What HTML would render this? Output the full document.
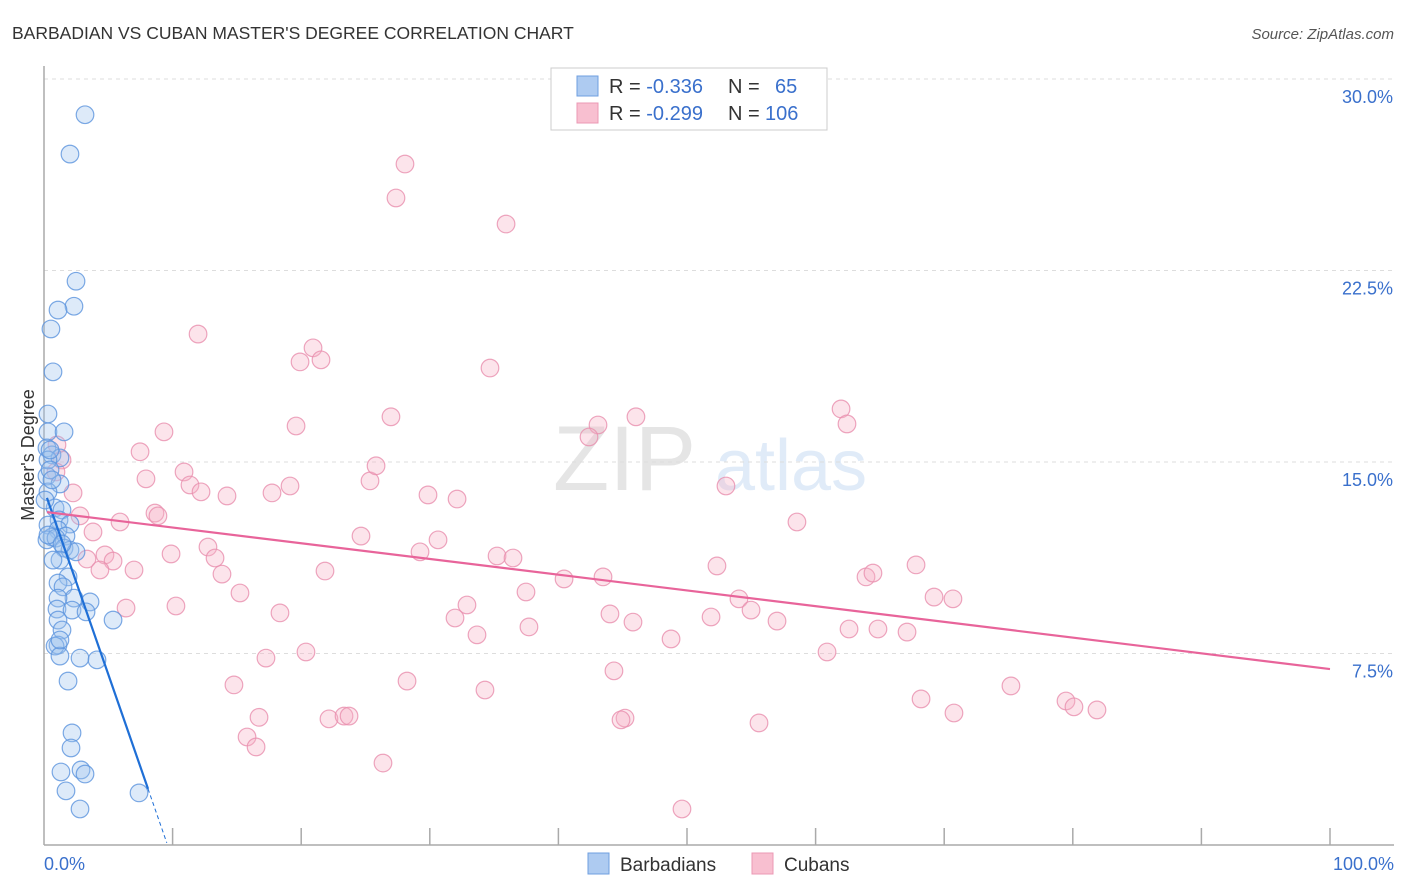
<!DOCTYPE html>
<html><head><meta charset="utf-8"><style>
body{margin:0;background:#fff;font-family:"Liberation Sans",sans-serif;}
#wrap{position:relative;width:1406px;height:892px;overflow:hidden;}
svg text{font-family:"Liberation Sans",sans-serif;}
</style></head><body>
<div id="wrap">
<svg id="chart" width="1406" height="892">
<text x="12" y="39" font-size="17.5" fill="#333">BARBADIAN VS CUBAN MASTER'S DEGREE CORRELATION CHART</text>
<text x="1394" y="39" font-size="15" fill="#555" text-anchor="end" font-style="italic">Source: ZipAtlas.com</text>
<g opacity="0.3">
<text x="553" y="490" font-size="92" font-family="Liberation Serif" fill="#aaa">ZIP</text>
<text x="715" y="490" font-size="72" fill="#9cc0ea">atlas</text>
</g>
<g id="grid"></g><g id="axes"></g><g id="pts"></g><g id="lines"></g>
<text transform="translate(34,455) rotate(-90)" font-size="18" fill="#333" text-anchor="middle">Master's Degree</text>
<text x="44" y="870" font-size="18" fill="#3a70cc">0.0%</text>
<text x="1394" y="870" font-size="18" fill="#3a70cc" text-anchor="end">100.0%</text>
<g>
<rect x="551" y="68" width="276" height="62" fill="#fff" stroke="#ccc"/>
<rect x="577" y="76" width="21" height="20" fill="#aecbf1" stroke="#6f9fe0"/>
<rect x="577" y="103" width="21" height="20" fill="#f8bfd0" stroke="#eb98b4"/>
<text x="609" y="93" font-size="20" fill="#333">R = <tspan fill="#3a70cc">-0.336</tspan><tspan x="728">N =</tspan><tspan x="775" fill="#3a70cc">65</tspan></text>
<text x="609" y="120" font-size="20" fill="#333">R = <tspan fill="#3a70cc">-0.299</tspan><tspan x="728">N =</tspan><tspan x="765" fill="#3a70cc">106</tspan></text>
</g>
<g>
<rect x="588" y="853" width="21" height="21" fill="#aecbf1" stroke="#6f9fe0"/>
<text x="620" y="871" font-size="19" fill="#333">Barbadians</text>
<rect x="752" y="853" width="21" height="21" fill="#f8bfd0" stroke="#eb98b4"/>
<text x="784" y="871" font-size="19" fill="#333">Cubans</text>
</g>
</svg></div>
<script>
const yTicks=[7.5,15,22.5,30];
const yTickLabels=["7.5%","15.0%","22.5%","30.0%"];
const xTicks=[10,20,30,40,50,60,70,80,90,100];
const blueX=[3.19,2.02,2.49,2.33,1.09,0.54,0.70,0.31,0.31,1.56,0.23,0.62,1.24,0.23,1.24,0.31,0.86,1.4,1.17,2.02,0.31,1.09,0.62,1.71,0.23,0.93,1.56,2.02,2.49,1.87,1.09,1.48,2.33,1.09,3.58,1.01,2.18,3.27,5.37,1.09,1.4,1.09,0.86,1.24,2.8,4.12,1.87,2.18,2.1,1.32,2.88,3.19,1.71,2.8,7.39,0.31,0.47,0.62,0.08,0.31,1.4,1.24,0.47,0.7,1.24];
const blueY=[28.6,27.06,22.08,21.1,20.95,20.21,18.53,16.88,16.18,16.18,15.55,15.28,15.16,14.45,14.14,13.83,13.2,13.12,12.73,12.57,12.53,12.34,12.06,12.1,11.95,12.02,11.63,11.55,11.48,10.5,10.26,10.11,9.67,9.67,9.52,9.24,9.2,9.13,8.81,8.81,8.42,7.83,7.79,7.4,7.32,7.25,6.42,4.39,3.8,2.86,2.94,2.78,2.12,1.41,2.04,15.08,14.69,14.3,13.51,12.14,11.79,11.16,15.47,11.16,8.03];
const pinkX=[28.07,27.37,35.93,11.98,20.92,19.91,21.54,34.68,26.98,46.03,43.08,42.38,61.98,62.44,19.6,9.33,7.47,1.01,10.89,7.93,11.35,12.21,14.23,17.73,19.13,25.35,25.82,29.86,32.12,53.03,1.4,0.93,2.26,2.8,5.91,8.63,8.86,58.55,24.65,30.64,29.24,35.23,36.47,12.75,9.88,13.3,4.74,3.81,3.34,5.37,4.35,7.0,13.84,21.85,40.44,43.47,52.33,63.92,64.46,67.81,15.24,37.48,32.89,69.21,70.68,54.04,6.38,10.26,18.35,31.96,44.01,45.8,51.87,54.98,57.0,33.67,37.71,48.76,62.6,64.85,67.11,17.26,20.37,60.89,44.32,28.23,34.29,14.77,75.19,68.2,79.47,80.09,81.88,70.76,16.72,22.16,23.33,23.72,45.18,44.87,55.6,15.79,16.49,26.36,49.61];
const pinkY=[26.67,25.34,24.32,20.01,19.47,18.92,19.0,18.68,16.77,16.77,16.45,15.98,17.08,16.49,16.41,16.18,15.4,15.67,14.61,14.34,14.1,13.83,13.67,13.79,14.06,14.26,14.85,13.71,13.55,14.06,15.08,14.61,13.79,12.89,12.65,13.0,12.89,12.65,12.1,11.95,11.48,11.32,11.24,11.67,11.4,11.24,11.36,12.26,11.2,11.12,10.77,10.77,10.61,10.73,10.42,10.5,10.93,10.5,10.65,10.97,9.87,9.91,9.4,9.71,9.64,9.64,9.28,9.36,9.09,8.89,9.05,8.73,8.93,9.2,8.77,8.23,8.54,8.07,8.46,8.46,8.34,7.32,7.56,7.56,6.82,6.42,6.07,6.27,6.23,5.72,5.64,5.41,5.29,5.17,5.0,4.94,5.05,5.05,4.97,4.9,4.78,4.23,3.84,3.21,1.41];
const blueTrend=[13.93,-1.45];
const blueRange=[0.23,8.09,9.55];
const pinkTrend=[13.05,-0.0616];
const pinkRange=[0.23,100];

const NS="http://www.w3.org/2000/svg";
const X0=44,X1=1330,Y0=845,YTOP=79;
const xs=v=>X0+(X1-X0)*v/100;
const ys=v=>Y0-(Y0-YTOP)*v/30;
function mk(tag,attrs,parent){const e=document.createElementNS(NS,tag);for(const k in attrs)e.setAttribute(k,attrs[k]);parent.appendChild(e);return e;}
const grid=document.getElementById('grid'),axes=document.getElementById('axes'),pts=document.getElementById('pts'),lines=document.getElementById('lines');
yTicks.forEach((t,i)=>{
  const l=mk('line',{x1:X0,x2:1394,y1:ys(t),y2:ys(t),stroke:'#ddd','stroke-dasharray':'4,4'},grid);
  
  
  const tx=mk('text',{x:1393,y:ys(t)+24,'font-size':18,fill:'#3a70cc','text-anchor':'end'},grid);
  tx.textContent=yTickLabels[i];
  
  
});
const ax=mk('line',{x1:X0,x2:X0,y1:66,y2:Y0,stroke:'#aaa','stroke-width':1.5},axes);


const bx=mk('line',{x1:X0,x2:1394,y1:Y0,y2:Y0,stroke:'#aaa','stroke-width':1.5},axes);


xTicks.forEach(t=>{
  const l=mk('line',{x1:xs(t),x2:xs(t),y1:Y0-17,y2:Y0,stroke:'#aaa','stroke-width':1.5},axes);
  
  
});
function drawPts(X,Y,fill,stroke,name){
  X.forEach((x,i)=>{
    const c=mk('circle',{cx:xs(x),cy:ys(Y[i]),r:8.8,fill:fill,'fill-opacity':0.35,stroke:stroke,'stroke-opacity':0.8,'stroke-width':1.2},pts);
    
    
  });
}
drawPts(pinkX,pinkY,'#f7b3c7','#e98fae','cuban-point');
drawPts(blueX,blueY,'#9fc2ef','#5b93dd','barbadian-point');
const bf=x=>blueTrend[0]+blueTrend[1]*x, pf=x=>pinkTrend[0]+pinkTrend[1]*x;
const bl=mk('line',{x1:xs(blueRange[0]),y1:ys(bf(blueRange[0])),x2:xs(blueRange[1]),y2:ys(bf(blueRange[1])),stroke:'#1f6fd6','stroke-width':2.2},lines);


const bd=mk('line',{x1:xs(blueRange[1]),y1:ys(bf(blueRange[1])),x2:xs(blueRange[2]),y2:ys(bf(blueRange[2])),stroke:'#1f6fd6','stroke-width':1,'stroke-dasharray':'4,3'},lines);


const pl=mk('line',{x1:xs(pinkRange[0]),y1:ys(pf(pinkRange[0])),x2:xs(pinkRange[1]),y2:ys(pf(pinkRange[1])),stroke:'#e8649a','stroke-width':2.2},lines);


</script>
</body></html>
